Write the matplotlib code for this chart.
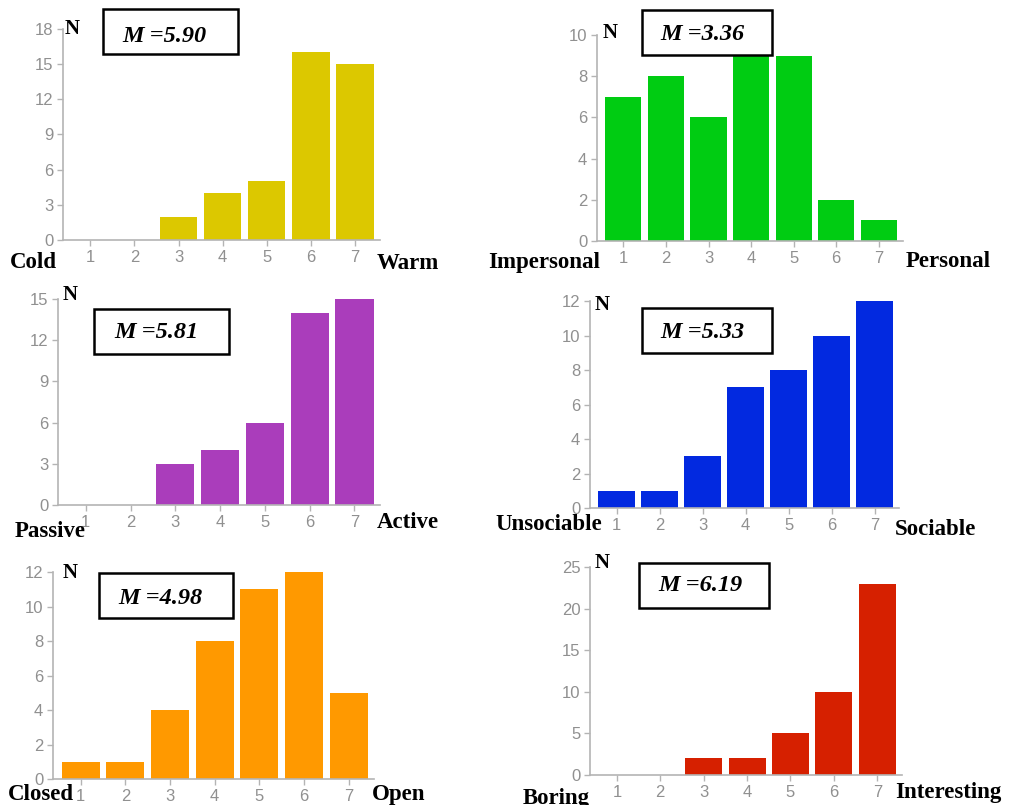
import matplotlib
matplotlib.use("Agg")
import matplotlib.pyplot as plt
from matplotlib.patches import Rectangle

W, H = 1020, 805

scale = [1, 2, 3, 4, 5, 6, 7]

# counts per rating, one list per panel
cold_warm = [0, 0, 2, 4, 5, 16, 15]
impersonal_personal = [7, 8, 6, 9, 9, 2, 1]
passive_active = [0, 0, 3, 4, 6, 14, 15]
unsociable_sociable = [1, 1, 3, 7, 8, 10, 12]
closed_open = [1, 1, 4, 8, 11, 12, 5]
boring_interesting = [0, 0, 2, 2, 5, 10, 23]

means = ["5.90", "3.36", "5.81", "5.33", "4.98", "6.19"]
left_words = ["Cold", "Impersonal", "Passive", "Unsociable", "Closed", "Boring"]
right_words = ["Warm", "Personal", "Active", "Sociable", "Open", "Interesting"]
colors = ["#dcc800", "#00cc12", "#aa3dbb", "#0229e0", "#ff9900", "#d62000"]
yticks = [range(0, 19, 3), range(0, 11, 2), range(0, 16, 3),
          range(0, 13, 2), range(0, 13, 2), range(0, 26, 5)]
series = [cold_warm, impersonal_personal, passive_active,
          unsociable_sociable, closed_open, boring_interesting]

# layout in pixels: axes (left, right, top, bottom), mean box (x0, x1, y0, y1), text centre,
# N position, left word (x, baseline), right word (x, baseline)
layout = [
    dict(ax=(63, 380, 29, 240), box=(103, 238, 9, 54), mt=(164, 36), n=(65, 34),
         lw=(10, 268), rw=(377, 269)),
    dict(ax=(597, 903, 35, 241), box=(642, 772, 10, 55), mt=(702, 35), n=(603, 38),
         lw=(488, 268), rw=(906, 267)),
    dict(ax=(58, 380, 299, 505), box=(94, 229, 309, 354), mt=(156, 333), n=(63, 300),
         lw=(15, 537), rw=(377, 528)),
    dict(ax=(590, 899, 301, 508), box=(642, 772, 308, 353), mt=(702, 333), n=(595, 310),
         lw=(495, 530), rw=(895, 535)),
    dict(ax=(53, 374, 572, 779), box=(99, 233, 573, 618), mt=(160, 598), n=(63, 578),
         lw=(8, 800), rw=(372, 800)),
    dict(ax=(590, 902, 567, 775), box=(639, 769, 563, 608), mt=(700, 585), n=(595, 568),
         lw=(523, 804), rw=(895, 798)),
]

fig = plt.figure(figsize=(W / 100, H / 100), dpi=100)
serif = "Liberation Serif"
axis_grey = "#b4b4b4"
label_grey = "#909090"

for i, vals in enumerate(series):
    L = layout[i]
    x0, x1, y0, y1 = L["ax"]
    ax = fig.add_axes([x0 / W, 1 - y1 / H, (x1 - x0) / W, (y1 - y0) / H])
    ax.bar(scale, vals, width=0.85, color=colors[i], edgecolor="none", zorder=2)
    ax.set_xlim(0.38, 7.57)
    yt = list(yticks[i])
    ax.set_ylim(0, yt[-1])
    ax.set_yticks(yt)
    ax.set_xticks(scale)
    for s in ["top", "right"]:
        ax.spines[s].set_visible(False)
    for s in ["left", "bottom"]:
        ax.spines[s].set_color(axis_grey)
        ax.spines[s].set_linewidth(1.2)
    ax.tick_params(colors=axis_grey, labelcolor=label_grey, length=4, width=1,
                   labelsize=12, pad=3)
    for lab in ax.get_xticklabels() + ax.get_yticklabels():
        lab.set_family("Liberation Sans")
    ax.patch.set_alpha(0)

    # mean box
    bx0, bx1, by0, by1 = L["box"]
    fig.patches.append(Rectangle((bx0 / W, 1 - by1 / H), (bx1 - bx0) / W, (by1 - by0) / H,
                                 transform=fig.transFigure, fill=False,
                                 edgecolor="black", linewidth=1.8))
    fig.text(L["mt"][0] / W, 1 - L["mt"][1] / H, r"M =" + means[i], family=serif,
             weight="bold", style="italic", fontsize=17.5, ha="center", va="center")

    fig.text(L["n"][0] / W, 1 - L["n"][1] / H, "N", family=serif, weight="bold",
             fontsize=15, va="baseline")
    fig.text(L["lw"][0] / W, 1 - L["lw"][1] / H, left_words[i], family=serif,
             weight="bold", fontsize=16.5, va="baseline")
    fig.text(L["rw"][0] / W, 1 - L["rw"][1] / H, right_words[i], family=serif,
             weight="bold", fontsize=16.5, va="baseline")

fig.savefig("out.png", dpi=100)
